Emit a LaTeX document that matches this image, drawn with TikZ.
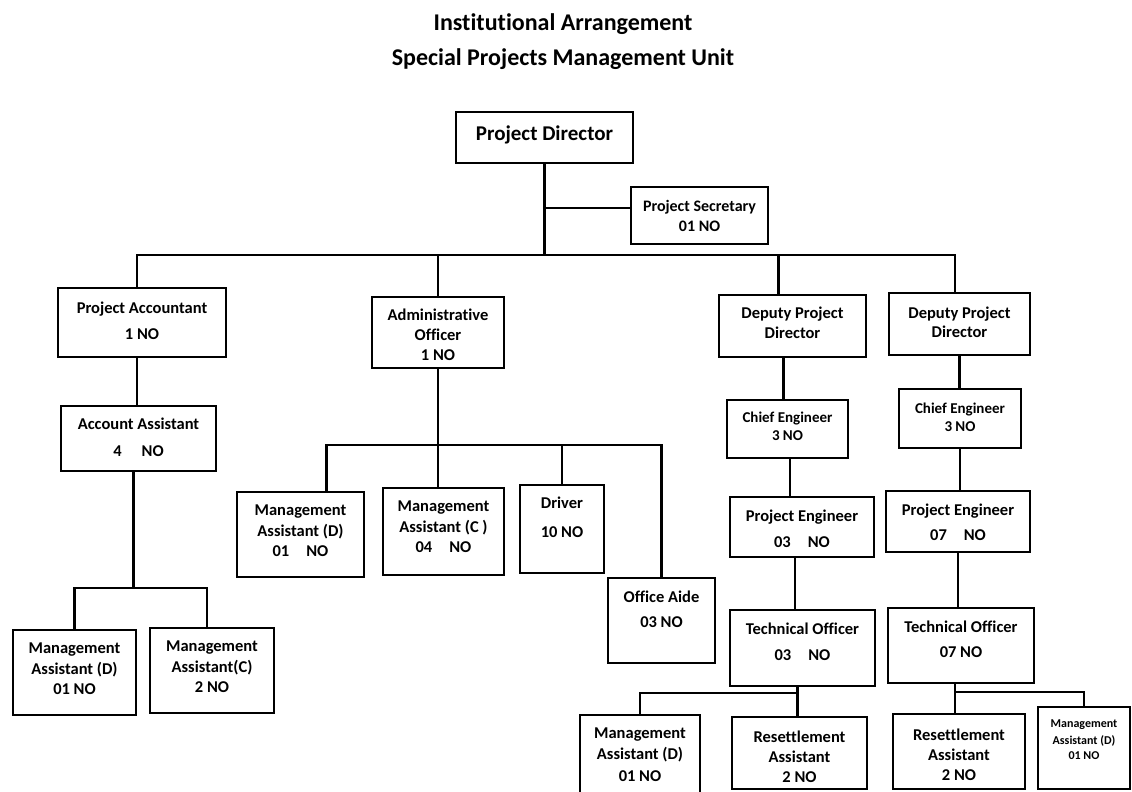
\documentclass[tikz,border=0pt]{standalone}
\usepackage{fontspec}
\setmainfont{Carlito}[Ligatures=NoCommon]
\usetikzlibrary{positioning,fit}

\begin{document}
\begin{tikzpicture}[x=1pt, y=-1pt,
    post/.style={draw, line width=2.6pt, inner sep=0pt},
    txt/.style={font=\bfseries\fontsize{16.5}{19.5}\selectfont, align=center, inner sep=0pt},
    small/.style={font=\bfseries\fontsize{15}{18}\selectfont},
    tiny/.style={font=\bfseries\fontsize{12}{14.5}\selectfont},
    link/.style={line width=2.3pt}
  ]
  \useasboundingbox (0,0) rectangle (1132,792);

  % heading
  \node[txt, font=\bfseries\fontsize{24}{28}\selectfont] (head) at (563,24) {Institutional Arrangement};
  \node[txt, font=\bfseries\fontsize{24}{28}\selectfont] (sub) at (563,59) {Special Projects Management Unit};

  % top of the unit
  \node[post, fit={(456,112) (633,163)}, label={[txt, yshift=3pt, font=\bfseries\fontsize{21}{25}\selectfont]center:{Project Director}}] (pd) {};
  \node[post, fit={(631,187) (768,244)}, label={[txt, font=\bfseries\fontsize{16}{19}\selectfont]center:{Project Secretary\\[1pt]01 NO}}] (ps) {};

  % finance branch
  \node[post, fit={(58,288) (226,357)}, label={[txt, yshift=1.5pt]center:{Project Accountant\\[6.5pt]1 NO}}] (pa) {};
  \node[post, fit={(61,406) (216,471)}, label={[txt, yshift=1pt]center:{Account Assistant\\[7.5pt]4\hspace{20pt}NO}}] (acc) {};
  \node[post, fit={(13,630) (136,715)}, label={[txt, yshift=3.5pt]center:{Management\\[1pt]Assistant (D)\\[1pt]01 NO}}] (madl) {};
  \node[post, fit={(150,628) (274,713)}, label={[txt, yshift=3.5pt]center:{Management\\[1pt]Assistant(C)\\[1pt]2 NO}}] (macl) {};

  % administration branch
  \node[post, fit={(372,297) (504,368)}, label={[txt, yshift=-2.5pt]center:{Administrative\\[0.5pt]Officer\\[0.5pt]1 NO}}] (ao) {};
  \node[post, fit={(237,492) (364,577)}, label={[txt, yshift=3.5pt]center:{Management\\[1pt]Assistant (D)\\[1pt]01\hspace{17pt}NO}}] (madm) {};
  \node[post, fit={(383,488) (504,575)}, label={[txt, yshift=4.5pt]center:{Management\\[1pt]Assistant (C )\\[1pt]04\hspace{17pt}NO}}] (macm) {};
  \node[post, fit={(520,485) (604,573)}, label={[txt, yshift=11.5pt]center:{Driver\\[9.5pt]10 NO}}] (drv) {};
  \node[post, fit={(608,578) (715,663)}, label={[txt, yshift=11pt]center:{Office Aide\\[5.5pt]03 NO}}] (aide) {};

  % first technical branch
  \node[post, fit={(719,295) (866,357)}, label={[txt, yshift=3pt]center:{Deputy Project\\Director}}] (dpd1) {};
  \node[post, fit={(727,400) (848,458)}, label={[txt, small, yshift=2.5pt]center:{Chief Engineer\\3 NO}}] (ce1) {};
  \node[post, fit={(730,497) (874,557)}, label={[txt, yshift=-2pt]center:{Project Engineer\\[6pt]03\hspace{17pt}NO}}] (pe1) {};
  \node[post, fit={(730,610) (875,686)}, label={[txt, yshift=6.5pt]center:{Technical Officer\\[6.5pt]03\hspace{17pt}NO}}] (to1) {};
  \node[post, fit={(580,715) (700,800)}, label={[txt, yshift=3pt]center:{Management\\[2pt]Assistant (D)\\[2pt]01 NO}}] (madb) {};
  \node[post, fit={(732,717) (867,789)}, label={[txt, yshift=-4pt]center:{Resettlement\\[0.5pt]Assistant\\[0.5pt]2 NO}}] (ra1) {};

  % second technical branch
  \node[post, fit={(889,293) (1030,355)}, label={[txt, yshift=1.5pt]center:{Deputy Project\\Director}}] (dpd2) {};
  \node[post, fit={(899,389) (1021,448)}, label={[txt, small, yshift=1.5pt]center:{Chief Engineer\\3 NO}}] (ce2) {};
  \node[post, fit={(886,491) (1030,552)}, label={[txt, yshift=-1pt]center:{Project Engineer\\[5.5pt]07\hspace{17pt}NO}}] (pe2) {};
  \node[post, fit={(888,608) (1034,683)}, label={[txt, yshift=6pt]center:{Technical Officer\\[5.5pt]07 NO}}] (to2) {};
  \node[post, fit={(893,714) (1025,789)}, label={[txt, yshift=-3pt]center:{Resettlement\\[0.5pt]Assistant\\[0.5pt]2 NO}}] (ra2) {};
  \node[post, fit={(1038,707) (1130,789)}, label={[txt, tiny, yshift=8.5pt]center:{Management\\[3pt]Assistant (D)\\[0.5pt]01 NO}}] (madr) {};

  % bus lines
  \coordinate (bus) at (0,255);
  \coordinate (lbus) at (0,588);
  \coordinate (abus) at (0,445);
  \coordinate (tbus1) at (0,693);
  \coordinate (tbus2) at (0,692);

  \draw[link] (pd.south) -- (pd.south |- bus);
  \draw[link] ([yshift=7.5pt]ps.west) -- ([yshift=7.5pt]ps.west -| pd.south);
  \draw[link] ([xshift=-5pt]pa.north) |- ([xshift=-4.5pt]dpd2.north |- bus) -- ([xshift=-4.5pt]dpd2.north);
  \draw[link] (ao.north) -- (ao.north |- bus);
  \draw[link] ([xshift=-14pt]dpd1.north) -- ([xshift=-14pt]dpd1.north |- bus);

  \draw[link] ([xshift=-5pt]pa.south) -- ([xshift=-5pt]pa.south |- acc.north);
  \draw[link] ([xshift=-5pt]acc.south) -- ([xshift=-5pt]acc.south |- lbus);
  \draw[link] (madl.north) |- ([xshift=-5pt]macl.north |- lbus) -- ([xshift=-5pt]macl.north);

  \draw[link] (ao.south) -- (ao.south |- macm.north);
  \draw[link] ([xshift=26pt]madm.north) |- (aide.north |- abus) -- (aide.north);
  \draw[link] (drv.north) -- (drv.north |- abus);

  \draw[link] ([xshift=-4pt]ce1.north) -- ([xshift=-4pt]ce1.north |- dpd1.south);
  \draw[link] ([xshift=-12pt]pe1.north) -- ([xshift=-12pt]pe1.north |- ce1.south);
  \draw[link] ([xshift=-7pt]pe1.south) -- ([xshift=-7pt]pe1.south |- to1.north);
  \draw[link] ([xshift=-2pt]ra1.north) -- ([xshift=-2pt]ra1.north |- to1.south);
  \draw[link] (madb.north) |- ([xshift=-2pt]ra1.north |- tbus1);

  \draw[link] (dpd2.south) -- (dpd2.south |- ce2.north);
  \draw[link] (ce2.south) -- (ce2.south |- pe2.north);
  \draw[link] (pe2.south) -- (pe2.south |- to2.north);
  \draw[link] ([xshift=-4pt]ra2.north) -- ([xshift=-4pt]ra2.north |- to2.south);
  \draw[link] ([xshift=-4pt]ra2.north |- tbus2) -| (madr.north);
\end{tikzpicture}
\end{document}
